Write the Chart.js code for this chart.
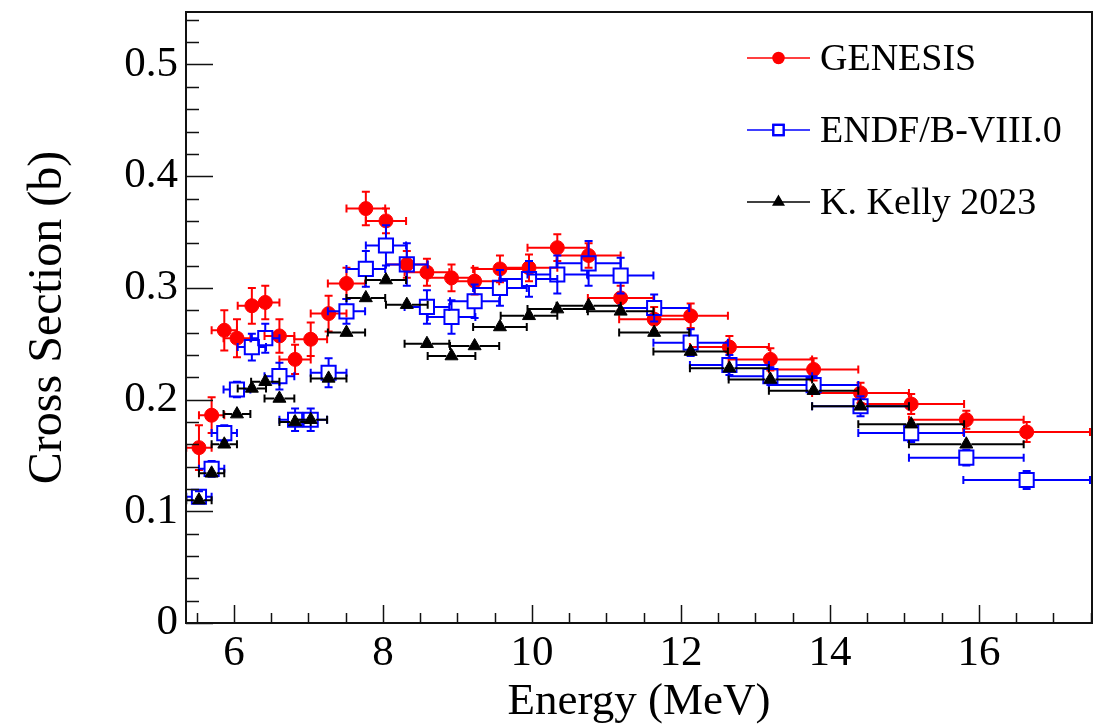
<!DOCTYPE html>
<html>
<head>
<meta charset="utf-8">
<script src="https://cdn.jsdelivr.net/npm/chart.js@4.4.1/dist/chart.umd.min.js"></script>
<style>
  html, body { margin: 0; padding: 0; background: #fff; }
  #wrap { width: 1109px; height: 725px; position: relative; }
</style>
</head>
<body>
<div id="wrap"><canvas id="xs-chart"></canvas></div>
<script>
// bin centres (MeV) and half widths, same bins for every set
var energy = [5.53, 5.70, 5.87, 6.04, 6.24, 6.42, 6.61, 6.82, 7.03, 7.27,
              7.51, 7.77, 8.04, 8.32, 8.59, 8.92, 9.23, 9.57, 9.96, 10.34,
              10.76, 11.19, 11.64, 12.13, 12.65, 13.20, 13.78, 14.41, 15.09, 15.83, 16.64];
var energyErr = [0.17, 0.17, 0.17, 0.18, 0.19, 0.19, 0.20, 0.21, 0.22, 0.24,
                 0.25, 0.26, 0.27, 0.28, 0.30, 0.32, 0.33, 0.36, 0.38, 0.40,
                 0.43, 0.44, 0.47, 0.50, 0.53, 0.56, 0.60, 0.65, 0.71, 0.77, 0.85];

// GENESIS
var genesis = [0.157, 0.186, 0.262, 0.255, 0.284, 0.287, 0.257, 0.236, 0.254, 0.277,
               0.304, 0.371, 0.360, 0.321, 0.314, 0.309, 0.306, 0.317, 0.318, 0.336,
               0.329, 0.291, 0.272, 0.275, 0.247, 0.236, 0.227, 0.206, 0.196, 0.182, 0.171];
var genesisErr = [0.020, 0.016, 0.018, 0.017, 0.016, 0.015, 0.015, 0.013, 0.015, 0.016,
                  0.014, 0.015, 0.011, 0.012, 0.012, 0.012, 0.012, 0.012, 0.012, 0.012,
                  0.011, 0.011, 0.011, 0.011, 0.010, 0.010, 0.010, 0.009, 0.009, 0.008, 0.009];

// ENDF/B-VIII.0
var endf = [0.113, 0.138, 0.170, 0.209, 0.247, 0.255, 0.221, 0.182, 0.182, 0.224,
            0.279, 0.317, 0.338, 0.321, 0.283, 0.274, 0.288, 0.300, 0.308, 0.312,
            0.322, 0.311, 0.282, 0.251, 0.231, 0.221, 0.213, 0.194, 0.170, 0.148, 0.128];
var endfErr = [0.005, 0.007, 0.007, 0.007, 0.012, 0.013, 0.012, 0.010, 0.010, 0.013,
               0.011, 0.016, 0.018, 0.019, 0.015, 0.015, 0.015, 0.016, 0.016, 0.017,
               0.020, 0.016, 0.012, 0.012, 0.009, 0.008, 0.008, 0.009, 0.008, 0.007, 0.008];

// K. Kelly 2023 (no point in the last bin)
var kelly = [0.110, 0.134, 0.160, 0.187, 0.210, 0.216, 0.201, 0.180, 0.182, 0.219,
             0.260, 0.291, 0.307, 0.285, 0.250, 0.239, 0.248, 0.265, 0.275, 0.281,
             0.284, 0.279, 0.260, 0.243, 0.228, 0.218, 0.208, 0.194, 0.178, 0.160];

var xTicks = [6, 8, 10, 12, 14, 16];
var yTicks = [0, 0.1, 0.2, 0.3, 0.4, 0.5];

function toPoints(vals) {
  return vals.map(function(v, i) { return { x: energy[i], y: v }; });
}

var serif = 'Liberation Serif, Times New Roman, serif';

// ROOT style error bars, drawn just before each set's markers
var errorBars = {
  id: 'errorBars',
  beforeDatasetDraw: function(chart, args) {
    var ds = chart.data.datasets[args.index];
    var ctx = chart.ctx, xs = chart.scales.x, ys = chart.scales.y, area = chart.chartArea;
    var gap = ds.gap, cap = 4;
    ctx.save();
    ctx.beginPath();
    ctx.rect(area.left, area.top, area.right - area.left, area.bottom - area.top);
    ctx.clip();
    ctx.strokeStyle = ds.borderColor;
    ctx.lineWidth = 2;
    ds.data.forEach(function(p, i) {
      var cx = xs.getPixelForValue(p.x), cy = ys.getPixelForValue(p.y);
      var x0 = xs.getPixelForValue(p.x - ds.xErr[i]);
      var x1 = xs.getPixelForValue(p.x + ds.xErr[i]);
      ctx.beginPath();
      ctx.moveTo(x0, cy); ctx.lineTo(cx - gap, cy);
      ctx.moveTo(cx + gap, cy); ctx.lineTo(x1, cy);
      ctx.moveTo(x0, cy - cap); ctx.lineTo(x0, cy + cap);
      ctx.moveTo(x1, cy - cap); ctx.lineTo(x1, cy + cap);
      if (ds.yErr && ds.yErr[i]) {
        var y0 = ys.getPixelForValue(p.y + ds.yErr[i]);
        var y1 = ys.getPixelForValue(p.y - ds.yErr[i]);
        if (cy - y0 > gap) {
          ctx.moveTo(cx, y0); ctx.lineTo(cx, cy - gap);
          ctx.moveTo(cx, cy + gap); ctx.lineTo(cx, y1);
        }
        ctx.moveTo(cx - cap, y0); ctx.lineTo(cx + cap, y0);
        ctx.moveTo(cx - cap, y1); ctx.lineTo(cx + cap, y1);
      }
      ctx.stroke();
    });
    ctx.restore();
  }
};

// frame and inward ticks like a ROOT canvas
var frameTicks = {
  id: 'frameTicks',
  afterDraw: function(chart) {
    var ctx = chart.ctx, xs = chart.scales.x, ys = chart.scales.y, a = chart.chartArea;
    ctx.save();
    ctx.strokeStyle = '#111';
    ctx.lineWidth = 1.5;
    ctx.beginPath();
    for (var t = 5.5; t <= 17.5; t += 0.5) {
      var px = Math.round(xs.getPixelForValue(t)) + 0.5;
      var len = (Math.abs(t / 2 - Math.round(t / 2)) < 1e-6) ? 18 : 10;
      ctx.moveTo(px, a.bottom); ctx.lineTo(px, a.bottom - len);
    }
    for (var k = 0; k <= 27; k++) {
      var v = k * 0.02;
      var py = Math.round(ys.getPixelForValue(v)) + 0.5;
      var ylen = (k % 5 === 0) ? 27 : 13;
      ctx.moveTo(a.left, py); ctx.lineTo(a.left + ylen, py);
    }
    ctx.stroke();
    ctx.lineWidth = 2;
    ctx.strokeRect(a.left, a.top, a.right - a.left, a.bottom - a.top);
    ctx.restore();
  }
};

// legend with line + marker, top right inside the frame
var rootLegend = {
  id: 'rootLegend',
  afterDraw: function(chart) {
    var ctx = chart.ctx, a = chart.chartArea;
    var x0 = a.right - 345, x1 = a.right - 282, xm = (x0 + x1) / 2, xt = a.right - 272;
    ctx.save();
    ctx.font = '38px ' + serif;
    ctx.textBaseline = 'middle';
    ctx.textAlign = 'left';
    chart.data.datasets.forEach(function(ds, i) {
      var y = a.top + 46 + i * 72;
      ctx.strokeStyle = ds.borderColor;
      ctx.fillStyle = ds.borderColor;
      ctx.lineWidth = 1.5;
      ctx.beginPath();
      ctx.moveTo(x0, y); ctx.lineTo(x1, y);
      ctx.stroke();
      Chart.helpers.drawPoint(ctx, {
        pointStyle: ds.pointStyle, radius: ds.legendRadius, borderWidth: 1.5, rotation: 0
      }, xm, y);
      if (ds.pointStyle === 'rect') {
        ctx.fillStyle = '#fff';
        ctx.fillRect(xm - 4, y - 4, 8, 8);
        ctx.strokeRect(xm - 5.5, y - 5.5, 11, 11);
      } else {
        ctx.fill();
      }
      ctx.fillStyle = '#000';
      ctx.fillText(ds.label, xt, y + 2);
    });
    ctx.restore();
  }
};

new Chart(document.getElementById('xs-chart'), {
  type: 'scatter',
  data: {
    datasets: [{
      label: 'GENESIS',
      data: toPoints(genesis),
      xErr: energyErr, yErr: genesisErr, gap: 6,
      pointStyle: 'circle', pointRadius: 7, legendRadius: 5.5,
      borderColor: '#ff0000', backgroundColor: '#ff0000', pointBorderWidth: 1,
      order: 3
    }, {
      label: 'ENDF/B-VIII.0',
      data: toPoints(endf),
      xErr: energyErr, yErr: endfErr, gap: 7,
      pointStyle: 'rect', pointRadius: 10, legendRadius: 7.8,
      borderColor: '#0000ff', backgroundColor: 'rgba(0,0,0,0)', pointBorderWidth: 2,
      order: 2
    }, {
      label: 'K. Kelly 2023',
      data: toPoints(kelly),
      xErr: energyErr, yErr: null, gap: 5,
      pointStyle: 'triangle', pointRadius: 7.5, legendRadius: 6,
      borderColor: '#000000', backgroundColor: '#000000', pointBorderWidth: 1,
      order: 1
    }]
  },
  options: {
    responsive: true,
    maintainAspectRatio: false,
    animation: false,
    layout: { padding: { top: 10, right: 17, left: 0, bottom: 0 } },
    plugins: {
      legend: { display: false },
      tooltip: { enabled: false }
    },
    scales: {
      x: {
        type: 'linear',
        min: 5.356,
        max: 17.517,
        afterBuildTicks: function(s) { s.ticks = xTicks.map(function(v) { return { value: v }; }); },
        afterFit: function(s) { s.height = 102; s.paddingLeft = 0; s.paddingRight = 0; },
        grid: { display: false, drawTicks: false, tickLength: 0 },
        border: { display: false },
        ticks: {
          color: '#000', padding: 5, maxRotation: 0, autoSkip: false,
          font: { family: serif, size: 43 },
          callback: function(v) { return String(v); }
        },
        title: {
          display: true, text: 'Energy (MeV)', color: '#000',
          font: { family: serif, size: 45 }, padding: { top: 0, bottom: -4 }
        }
      },
      y: {
        type: 'linear',
        min: 0,
        max: 0.547,
        afterBuildTicks: function(s) { s.ticks = yTicks.map(function(v) { return { value: v }; }); },
        afterFit: function(s) { s.width = 186; s.paddingTop = 0; s.paddingBottom = 0; },
        grid: { display: false, drawTicks: false, tickLength: 0 },
        border: { display: false },
        ticks: {
          color: '#000', padding: 8, autoSkip: false,
          font: { family: serif, size: 43 },
          callback: function(v) { return v === 0 ? '0' : v.toFixed(1); }
        },
        title: {
          display: true, text: 'Cross Section (b)', color: '#000',
          font: { family: serif, size: 48 }, padding: { top: 20, bottom: 0 }
        }
      }
    }
  },
  plugins: [errorBars, frameTicks, rootLegend]
});
</script>
</body>
</html>
